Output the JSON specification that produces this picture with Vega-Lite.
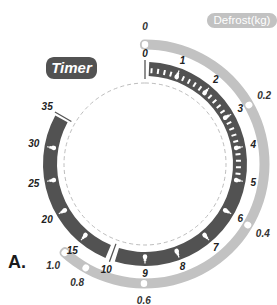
{
  "$schema": "https://vega.github.io/schema/vega-lite/v6.json",
  "width": 264,
  "height": 282,
  "autosize": {"type": "none"},
  "padding": {"left": 13, "top": 23, "right": 0, "bottom": 0},
  "config": {"view": {"stroke": null}},
  "title": {"text": "A.", "orient": "bottom", "anchor": "start", "frame": "group", "baseline": "alphabetic", "offset": 0, "dx": -5, "dy": -38, "fontSize": 18, "font": "Liberation Sans", "fontWeight": "bold", "color": "#1a1a1a"},
  "datasets": {
    "timerBand": [{"series": "Timer", "from": 0.12, "to": 9.86}, {"series": "Timer", "from": 10.7, "to": 34.6}],
    "defrostBand": [{"series": "Defrost(kg)", "from": -0.008, "to": 1.04}],
    "separators": [{"min": 0}, {"min": 10}, {"min": 35}],
    "notches": [{"min": 0.2}, {"min": 0.4}, {"min": 0.6}, {"min": 0.8}, {"min": 1.2}, {"min": 1.4}, {"min": 1.6}, {"min": 1.8}, {"min": 2.2}, {"min": 2.4}, {"min": 2.6}, {"min": 2.8}, {"min": 3.2}, {"min": 3.4}, {"min": 3.6}, {"min": 3.8}, {"min": 4.2}, {"min": 4.4}, {"min": 4.6}, {"min": 4.8}],
    "drops": [{"min": 1}, {"min": 2}, {"min": 3}, {"min": 4}, {"min": 5}, {"min": 6}, {"min": 7}, {"min": 8}, {"min": 9}, {"min": 15}, {"min": 20}, {"min": 25}, {"min": 30}],
    "timerLabels": [{"min": 0, "label": "0"}, {"min": 1, "label": "1"}, {"min": 2, "label": "2"}, {"min": 3, "label": "3"}, {"min": 4, "label": "4"}, {"min": 5, "label": "5"}, {"min": 6, "label": "6"}, {"min": 7, "label": "7"}, {"min": 8, "label": "8"}, {"min": 9, "label": "9"}, {"min": 10, "label": "10"}, {"min": 15, "label": "15"}, {"min": 20, "label": "20"}, {"min": 25, "label": "25"}, {"min": 30, "label": "30"}, {"min": 35, "label": "35"}],
    "kgMarks": [{"kg": 0, "label": "0"}, {"kg": 0.2, "label": "0.2"}, {"kg": 0.4, "label": "0.4"}, {"kg": 0.6, "label": "0.6"}, {"kg": 0.8, "label": "0.8"}, {"kg": 1.0, "label": "1.0"}]
  },
  "layer": [
    {
      "data": {"values": [{"ring": "dial"}]},
      "mark": {"type": "arc", "theta": 0, "theta2": 6.2832, "radius": 81, "filled": false, "stroke": "#bdbdbd", "strokeWidth": 1, "strokeDash": [4, 3]},
      "encoding": {}
    },
    {
      "data": {"name": "defrostBand"},
      "mark": {"type": "arc", "radius": 124.5, "radius2": 114.5, "cornerRadius": 4.5},
      "encoding": {
        "theta": {"field": "from", "type": "quantitative", "stack": null, "scale": {"type": "linear", "domain": [0, 0.2, 0.4, 0.6, 0.8, 1], "range": [0, 1.0542, 2.1066, 3.1503, 3.66, 3.8764], "zero": false, "nice": false}},
        "theta2": {"field": "to"},
        "color": {"field": "series", "type": "nominal", "scale": {"domain": ["Defrost(kg)"], "range": ["#c2c2c2"]},
          "legend": {"orient": "none", "legendX": 194, "legendY": -37.5, "title": null, "padding": 0, "symbolType": "M-0.786 -0.214L0.786 -0.214A0.214 0.214 0 0 1 0.786 0.214L-0.786 0.214A0.214 0.214 0 0 1 -0.786 -0.214Z", "symbolSize": 4900, "symbolStrokeWidth": 0, "symbolOpacity": 1, "labelColor": "white", "labelFont": "Liberation Sans", "labelFontSize": 11.5, "labelAlign": "center", "labelOffset": -35}}
      }
    },
    {
      "data": {"name": "kgMarks"},
      "mark": {"type": "arc", "radius": 119.8, "radius2": 119.2, "stroke": "white", "strokeWidth": 6.5, "strokeJoin": "round", "strokeCap": "round", "fill": "transparent"},
      "encoding": {
        "theta": {"field": "kg", "type": "quantitative", "stack": null, "scale": {"type": "linear", "domain": [0, 0.2, 0.4, 0.6, 0.8, 1], "range": [0, 1.0542, 2.1066, 3.1503, 3.66, 3.8764], "zero": false, "nice": false}},
        "theta2": {"field": "kg"}
      }
    },
    {
      "data": {"name": "kgMarks"},
      "mark": {"type": "text", "radius": 137, "fontSize": 10, "font": "Liberation Sans", "fontWeight": "bold", "fontStyle": "italic", "color": "#333333", "align": "center", "baseline": "middle"},
      "encoding": {
        "theta": {"field": "kg", "type": "quantitative", "stack": null, "scale": {"type": "linear", "domain": [0, 0.2, 0.4, 0.6, 0.8, 1], "range": [0, 1.0542, 2.1066, 3.1503, 3.66, 3.8764], "zero": false, "nice": false}},
        "text": {"field": "label"}
      }
    },
    {
      "data": {"name": "timerBand"},
      "mark": {"type": "arc", "radius": 102, "radius2": 88},
      "encoding": {
        "theta": {"field": "from", "type": "quantitative", "stack": null, "scale": {"type": "linear", "domain": [0, 10, 35], "range": [0, 3.49066, 5.23599], "zero": false, "nice": false}},
        "theta2": {"field": "to"},
        "color": {"field": "series", "type": "nominal", "scale": {"domain": ["Timer"], "range": ["#525252"]},
          "legend": {"orient": "none", "legendX": 33, "legendY": 19.5, "title": null, "padding": 0, "symbolType": "M-0.686 -0.431L0.686 -0.431A0.314 0.314 0 0 1 1 -0.117L1 0.117A0.314 0.314 0 0 1 0.686 0.431L-0.686 0.431A0.314 0.314 0 0 1 -1 0.117L-1 -0.117A0.314 0.314 0 0 1 -0.686 -0.431Z", "symbolSize": 2601, "symbolStrokeWidth": 0, "symbolOpacity": 1, "labelColor": "white", "labelFont": "Liberation Sans", "labelFontSize": 15, "labelFontWeight": "bold", "labelFontStyle": "italic", "labelAlign": "center", "labelOffset": -25.5}}
      }
    },
    {
      "data": {"name": "separators"},
      "mark": {"type": "arc", "radius": 104, "radius2": 85, "stroke": "#555555", "strokeWidth": 1.3, "fill": "transparent"},
      "encoding": {
        "theta": {"field": "min", "type": "quantitative", "stack": null, "scale": {"type": "linear", "domain": [0, 10, 35], "range": [0, 3.49066, 5.23599], "zero": false, "nice": false}},
        "theta2": {"field": "min"}
      }
    },
    {
      "data": {"name": "notches"},
      "mark": {"type": "arc", "radius": 96, "radius2": 91, "stroke": "white", "strokeWidth": 2, "fill": "transparent"},
      "encoding": {
        "theta": {"field": "min", "type": "quantitative", "stack": null, "scale": {"type": "linear", "domain": [0, 10, 35], "range": [0, 3.49066, 5.23599], "zero": false, "nice": false}},
        "theta2": {"field": "min"}
      }
    },
    {
      "data": {"name": "drops"},
      "mark": {"type": "arc", "radius": 93, "radius2": 92.5, "stroke": "white", "strokeWidth": 4.5, "strokeJoin": "round", "fill": "transparent"},
      "encoding": {
        "theta": {"field": "min", "type": "quantitative", "stack": null, "scale": {"type": "linear", "domain": [0, 10, 35], "range": [0, 3.49066, 5.23599], "zero": false, "nice": false}},
        "theta2": {"field": "min"}
      }
    },
    {
      "data": {"name": "drops"},
      "mark": {"type": "arc", "radius": 97, "radius2": 92, "stroke": "white", "strokeWidth": 2.6, "fill": "transparent"},
      "encoding": {
        "theta": {"field": "min", "type": "quantitative", "stack": null, "scale": {"type": "linear", "domain": [0, 10, 35], "range": [0, 3.49066, 5.23599], "zero": false, "nice": false}},
        "theta2": {"field": "min"}
      }
    },
    {
      "data": {"name": "drops"},
      "mark": {"type": "arc", "radius": 99.5, "radius2": 95, "stroke": "white", "strokeWidth": 1.2, "fill": "transparent"},
      "encoding": {
        "theta": {"field": "min", "type": "quantitative", "stack": null, "scale": {"type": "linear", "domain": [0, 10, 35], "range": [0, 3.49066, 5.23599], "zero": false, "nice": false}},
        "theta2": {"field": "min"}
      }
    },
    {
      "data": {"name": "timerLabels"},
      "transform": [{"filter": "datum.min < 10"}],
      "mark": {"type": "text", "radius": 110, "fontSize": 10, "font": "Liberation Sans", "fontWeight": "bold", "fontStyle": "italic", "color": "#222222", "align": "center", "baseline": "middle"},
      "encoding": {
        "theta": {"field": "min", "type": "quantitative", "stack": null, "scale": {"type": "linear", "domain": [0, 10, 35], "range": [0, 3.49066, 5.23599], "zero": false, "nice": false}},
        "text": {"field": "label"}
      }
    },
    {
      "data": {"name": "timerLabels"},
      "transform": [{"filter": "datum.min >= 10"}],
      "mark": {"type": "text", "radius": 113, "fontSize": 10, "font": "Liberation Sans", "fontWeight": "bold", "fontStyle": "italic", "color": "#222222", "align": "center", "baseline": "middle"},
      "encoding": {
        "theta": {"field": "min", "type": "quantitative", "stack": null, "scale": {"type": "linear", "domain": [0, 10, 35], "range": [0, 3.49066, 5.23599], "zero": false, "nice": false}},
        "text": {"field": "label"}
      }
    }
  ],
  "resolve": {"scale": {"theta": "independent", "color": "independent"}}
}
